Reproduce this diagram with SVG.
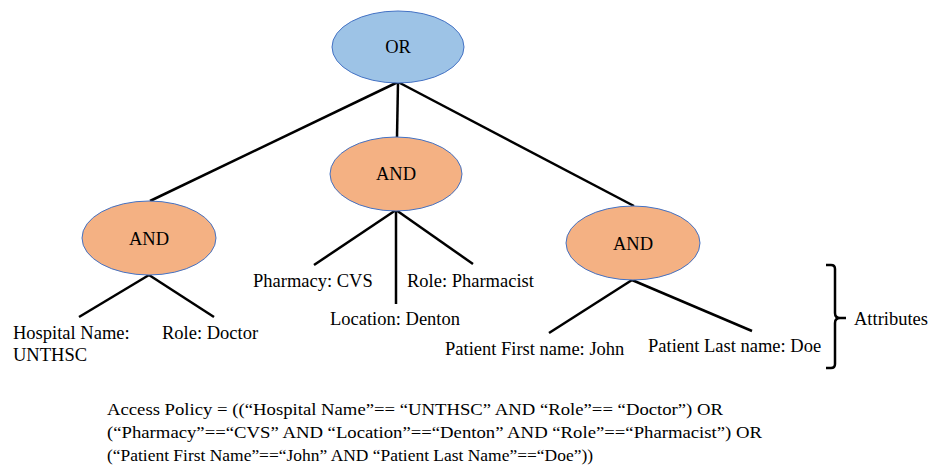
<svg xmlns="http://www.w3.org/2000/svg" width="933" height="466" viewBox="0 0 933 466">
<style>
text{font-family:"Liberation Serif","Times New Roman",serif;fill:#000}
.lbl{font-size:18.5px}
.nd{font-size:18.5px;text-anchor:middle}
.pol{font-size:17.5px}
.or{fill:#9DC3E6;stroke:#4472C4;stroke-width:1}
.and{fill:#F4B183;stroke:#4472C4;stroke-width:1}
.edge{stroke:#000;stroke-width:2.5;fill:none}
</style>
<rect width="933" height="466" fill="#fff"/>
<g id="connectors">
<line class="edge" x1="398" y1="82" x2="150" y2="201"/>
<line class="edge" x1="398" y1="82" x2="397" y2="137"/>
<line class="edge" x1="398" y1="82" x2="634" y2="206"/>
<line class="edge" x1="149" y1="275" x2="79" y2="317"/>
<line class="edge" x1="149" y1="275" x2="214" y2="317"/>
<line class="edge" x1="396" y1="210" x2="314" y2="265"/>
<line class="edge" x1="396" y1="210" x2="396" y2="304"/>
<line class="edge" x1="396" y1="210" x2="473" y2="264"/>
<line class="edge" x1="632" y1="280" x2="549" y2="333"/>
<line class="edge" x1="632" y1="280" x2="752" y2="331"/>
</g>
<g id="node-or">
<ellipse class="or" cx="398" cy="47" rx="66" ry="36"/>
<text class="nd" x="398" y="53">OR</text>
</g>
<g id="node-and-mid">
<ellipse class="and" cx="396" cy="174" rx="66" ry="37"/>
<text class="nd" x="396" y="180">AND</text>
</g>
<g id="node-and-left">
<ellipse class="and" cx="149" cy="238" rx="67" ry="37"/>
<text class="nd" x="149" y="245">AND</text>
</g>
<g id="node-and-right">
<ellipse class="and" cx="633" cy="243" rx="67" ry="37"/>
<text class="nd" x="633" y="250">AND</text>
</g>
<g id="attr-hospital"><text class="lbl" x="13" y="339">Hospital Name:</text><text class="lbl" x="13" y="361">UNTHSC</text></g>
<g id="attr-role-doctor"><text class="lbl" x="162" y="339">Role: Doctor</text></g>
<g id="attr-pharmacy"><text class="lbl" x="253" y="287">Pharmacy: CVS</text></g>
<g id="attr-role-pharm"><text class="lbl" x="407" y="287">Role: Pharmacist</text></g>
<g id="attr-location"><text class="lbl" x="330" y="325">Location: Denton</text></g>
<g id="attr-first"><text class="lbl" x="445" y="355">Patient First name: John</text></g>
<g id="attr-last"><text class="lbl" x="648" y="352">Patient Last name: Doe</text></g>
<g id="brace">
<path d="M826,265 H831 Q835,265 835,269 V313 Q835,318 840,318 H846 M840,318 Q835,318 835,323 V364 Q835,368 831,368 H826" fill="none" stroke="#000" stroke-width="2.5"/>
<text class="lbl" x="854" y="325">Attributes</text>
</g>
<g id="policy">
<text class="pol" x="107" y="415" textLength="616" lengthAdjust="spacingAndGlyphs">Access Policy = ((“Hospital Name”== “UNTHSC” AND “Role”== “Doctor”) OR</text>
<text class="pol" x="107" y="438" textLength="655" lengthAdjust="spacingAndGlyphs">(“Pharmacy”==“CVS” AND “Location”==“Denton” AND “Role”==“Pharmacist”) OR</text>
<text class="pol" x="107" y="461" textLength="486" lengthAdjust="spacingAndGlyphs">(“Patient First Name”==“John” AND “Patient Last Name”==“Doe”))</text>
</g>
</svg>
